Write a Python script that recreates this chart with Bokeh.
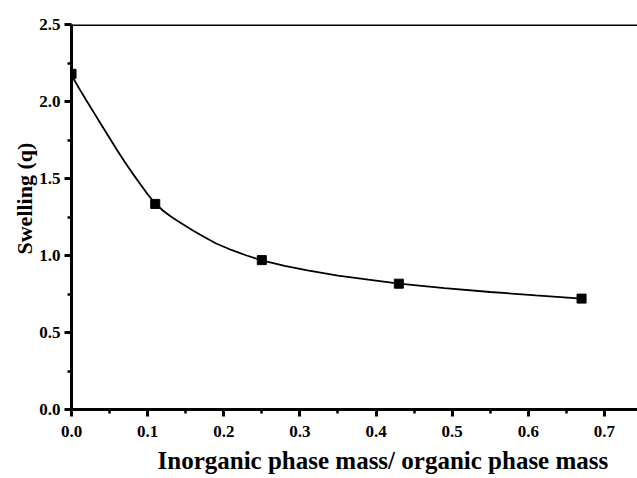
from bokeh.plotting import figure
from bokeh.models import Range1d, Span, Title, FixedTicker
from bokeh.embed import file_html
from bokeh.resources import INLINE

# measured data points
ratio = [0.0, 0.11, 0.25, 0.43, 0.67]
swelling = [2.18, 1.335, 0.97, 0.817, 0.72]

# fitted curve
curve_x = [0.0, 0.01, 0.02, 0.03, 0.04, 0.05, 0.06, 0.07, 0.08, 0.09, 0.10, 0.11,
           0.12, 0.13, 0.14, 0.15, 0.16, 0.175, 0.19, 0.21, 0.23, 0.25,
           0.28, 0.31, 0.35, 0.39, 0.43, 0.49, 0.55, 0.61, 0.67]
curve_y = [2.17, 2.085, 2.003, 1.923, 1.843, 1.763, 1.683, 1.607, 1.535, 1.466, 1.398, 1.338,
           1.292, 1.255, 1.222, 1.191, 1.161, 1.118, 1.078, 1.036, 1.000, 0.969,
           0.933, 0.904, 0.870, 0.843, 0.818, 0.788, 0.763, 0.741, 0.720]

x_ticks = [0.0, 0.1, 0.2, 0.3, 0.4, 0.5, 0.6, 0.7]
y_ticks = [0.0, 0.5, 1.0, 1.5, 2.0, 2.5]

FONT = "Liberation Serif"

p = figure(width=637, height=478, output_backend="svg", toolbar_location=None,
           x_range=Range1d(0, 0.7435), y_range=Range1d(0, 2.5),
           min_border_left=71, min_border_right=0, min_border_top=24, min_border_bottom=0)
p.grid.visible = False
p.outline_line_color = None
p.background_fill_color = "white"
p.border_fill_color = "white"

p.line(curve_x, curve_y, line_color="black", line_width=1.8)
p.scatter(ratio, swelling, marker="square", size=9, fill_color="black", line_color="black")

p.add_layout(Span(location=2.5, dimension="width", line_color="black", line_width=3))

for ax in (p.xaxis[0], p.yaxis[0]):
    ax.axis_line_color = "black"
    ax.axis_line_width = 3
    ax.major_tick_line_color = "black"
    ax.major_tick_line_width = 3
    ax.minor_tick_line_color = "black"
    ax.minor_tick_line_width = 2.5
    ax.major_tick_out = 7
    ax.major_tick_in = 0
    ax.minor_tick_out = 4
    ax.minor_tick_in = 0
    ax.major_label_text_font = FONT
    ax.major_label_text_font_style = "bold"
    ax.major_label_text_font_size = "17px"
    ax.major_label_text_color = "black"

p.xaxis.ticker = FixedTicker(ticks=x_ticks, minor_ticks=[0.05 + 0.1 * i for i in range(7)])
p.yaxis.ticker = FixedTicker(ticks=y_ticks, minor_ticks=[0.25 + 0.5 * i for i in range(5)])
p.xaxis.major_label_overrides = {t: f"{t:.1f}" for t in x_ticks}
p.yaxis.major_label_overrides = {t: f"{t:.1f}" for t in y_ticks}
p.xaxis.major_label_standoff = 9
p.yaxis.major_label_standoff = 4

p.add_layout(Title(text="Inorganic phase mass/ organic phase mass", align="left",
                   offset=86, standoff=10, text_font=FONT, text_font_style="bold",
                   text_font_size="25px", text_color="black"), "below")
p.add_layout(Title(text="Swelling (q)", align="left", offset=155, standoff=0,
                   text_font=FONT, text_font_style="bold",
                   text_font_size="22px", text_color="black"), "left")

open("out.html", "w").write(file_html(p, INLINE))
